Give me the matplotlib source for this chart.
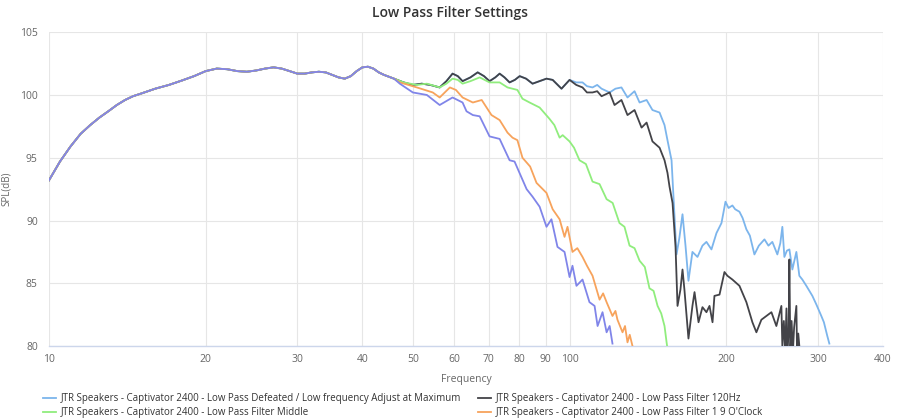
import matplotlib
matplotlib.use('Agg')
import matplotlib.pyplot as plt
from matplotlib.ticker import FixedLocator, NullLocator, NullFormatter

plt.rcParams['font.family'] = ['Open Sans', 'DejaVu Sans']

# shared low end (all settings identical here)
common_freq = [10, 10.5, 11, 11.5, 12, 12.5, 13, 13.5, 14, 14.5, 15, 16, 17, 18, 19, 20, 21, 22, 23,
               24, 25, 26, 27, 28, 29, 30, 31, 32, 33, 34, 35, 36, 37, 38, 39, 40, 41, 42, 43, 44, 46]
common_spl = [93.2, 94.7, 95.9, 96.9, 97.6, 98.2, 98.7, 99.2, 99.6, 99.9, 100.1, 100.5, 100.8, 101.15,
              101.5, 101.9, 102.1, 102.05, 101.9, 101.85, 101.95, 102.1, 102.2, 102.1, 101.9, 101.7,
              101.7, 101.8, 101.85, 101.8, 101.6, 101.4, 101.3, 101.5, 101.9, 102.2, 102.25, 102.1,
              101.8, 101.6, 101.3]

# blue and black are the same until about 100 Hz
mid_freq = [48, 50.0, 52, 54, 56.3, 58, 59.6, 61, 62.3, 64.5, 66.6, 68.5, 70.2, 72, 73.4, 75, 76.7,
            78.5, 80.2, 82.5, 84.9, 87.5, 90.3, 92.8, 96.5, 98.5, 100]
mid_spl = [101.0, 100.8, 100.9, 100.8, 100.6, 101.1, 101.7, 101.5, 101.1, 101.4, 101.8, 101.5, 101.1,
           101.4, 101.7, 101.4, 101.0, 101.2, 101.5, 101.3, 100.9, 101.1, 101.3, 101.2, 100.5, 100.9, 101.2]

defeated_freq = [103, 105.9, 108, 110.7, 113, 115.2, 119.4, 122.5, 125.8, 129.2, 133.3, 136.3, 140.6,
                 144.3, 148.9, 152.2, 154.2, 157.0, 157.7, 158.9, 160.5, 162.5, 164.8, 167, 169.2, 172.2,
                 176.1, 180.0, 183.2, 187.3, 191.5, 195.8, 199.3, 202, 205.5, 208, 212.0, 215, 218.6,
                 222, 226.5, 231.0, 236.8, 241.0, 245.2, 250.7, 254, 256.3, 258.6, 261.5, 264.4, 267.9,
                 272.7, 276.3, 280, 285.0, 292.7, 298.0, 304.5, 308, 312.7, 315.5]
defeated_spl = [101.0, 101.0, 100.7, 100.6, 100.8, 100.5, 100.2, 100.5, 100.6, 99.8, 100.3, 99.4, 99.6,
                98.8, 98.6, 97.6, 96.4, 94.8, 93.3, 90.9, 87.3, 88.6, 90.5, 88.0, 85.2, 87.5,
                87.1, 88.0, 88.3, 87.7, 89.0, 89.8, 91.5, 91.0, 91.2, 90.9, 90.7, 90.2, 89.3,
                88.8, 87.3, 88.0, 88.5, 88.0, 88.3, 87.3, 88.2, 89.5, 87.1, 87.6, 87.7, 86.1,
                87.5, 85.6, 85.3, 84.8, 84.0, 83.3, 82.4, 81.9, 80.8, 80.2]

lp120_freq = [103, 105.9, 108, 110.7, 113, 115.2, 119.4, 122.0, 125.8, 129.2, 133.3, 137.5, 140.6,
              144.3, 148.9, 152.2, 154.2, 155.6, 157.7, 159.8, 161.2, 163.3, 164.8, 166.2, 169.2,
              172.2, 173.8, 176.9, 180.0, 183.2, 185.7, 188.2, 189.8, 194.1, 198.4, 201.0, 205.5,
              212.0, 218.6, 224.5, 228.5, 233.6, 238.8, 244.2, 249.6, 255.2, 256.3, 258.0, 259.5,
              261.0, 262.0, 263.5, 264.4, 265.5, 267.0, 268.5, 270.0, 272.7, 273.5, 275.0, 276.3]
lp120_spl = [100.8, 100.6, 100.2, 100.2, 100.3, 99.9, 100.2, 99.2, 99.6, 98.4, 98.8, 97.4, 97.8,
             96.3, 95.8, 94.8, 93.8, 92.7, 91.4, 87.9, 83.2, 84.5, 86.1, 84.5, 80.6,
             83.2, 84.3, 81.9, 83.1, 82.7, 83.2, 81.9, 84.0, 84.1, 85.9, 85.6, 85.3,
             84.8, 83.5, 81.9, 81.1, 82.1, 82.4, 82.7, 81.6, 83.2, 80.0, 82.0, 79.5,
             83.0, 79.5, 81.0, 86.9, 79.5, 82.0, 79.5, 81.5, 83.2, 79.5, 81.0, 80.0]

middle_freq = [48, 50.9, 53.2, 56.3, 58, 59.6, 61, 62.3, 64.5, 67.2, 70.2, 73.4, 76.0, 79.4, 81.2,
               83.8, 87.6, 91.5, 93.5, 95.7, 97.0, 100, 102, 104.5, 107.5, 110.7, 114.2, 117.8, 121.0,
               124.7, 127.5, 130.4, 133.3, 136.3, 139.5, 142.4, 145.0, 147.6, 150.0, 152.2, 153.6, 154.2]
middle_spl = [101.0, 100.8, 100.9, 100.6, 100.9, 101.3, 101.2, 100.9, 101.1, 101.4, 101.0, 101.0,
              100.6, 100.4, 99.7, 99.4, 99.0, 98.1, 97.6, 96.6, 96.8, 96.3, 95.8, 94.8, 94.5, 93.1,
              92.9, 91.7, 91.4, 89.8, 89.5, 88.0, 87.8, 86.8, 86.3, 84.6, 84.4, 83.2, 82.6, 81.6,
              80.3, 79.8]

oclock_freq = [47.2, 50.9, 54.6, 56.3, 58.9, 60.5, 62.3, 65.2, 67.8, 70.8, 73.4, 76.0, 77.7, 79.4,
               81.2, 84.0, 86.4, 90.3, 92.8, 95.7, 97.8, 99.1, 101.3, 103.5, 105.9, 108.0, 110.7,
               114.2, 116.0, 117.8, 120.9, 122.5, 123.6, 126.4, 127.8, 129.2, 130.5, 132.1]
oclock_spl = [101.0, 100.6, 100.2, 99.8, 100.6, 100.4, 99.8, 99.4, 99.6, 98.4, 98.0, 97.0, 96.6,
              96.4, 95.0, 94.3, 93.0, 92.2, 90.9, 90.1, 88.7, 89.5, 87.5, 87.8, 87.1, 86.4, 85.6,
              83.7, 84.2, 83.5, 82.4, 82.8, 82.1, 81.1, 81.6, 80.3, 80.9, 80.0]

nine_freq = [47.2, 50.0, 53.2, 56.3, 59.6, 62.3, 63.4, 65.2, 67.2, 70.2, 73.4, 76.7, 78.4, 82.7,
             84.9, 87.6, 90.3, 92.3, 94.8, 97.8, 100, 101.3, 103.1, 105.9, 109.2, 111.7, 113.2,
             115.7, 117.8, 119.4, 120.9]
nine_spl = [100.9, 100.2, 100.0, 99.2, 99.8, 99.4, 98.7, 98.4, 98.3, 96.7, 96.5, 94.8, 94.7, 92.5,
            91.9, 91.1, 89.5, 90.1, 87.9, 87.5, 85.5, 86.4, 84.8, 85.3, 83.5, 83.2, 81.6,
            82.7, 81.1, 81.6, 80.2]

labels = ['JTR Speakers - Captivator 2400 - Low Pass Defeated / Low frequency Adjust at Maximum',
          'JTR Speakers - Captivator 2400 - Low Pass Filter 120Hz',
          'JTR Speakers - Captivator 2400 - Low Pass Filter Middle',
          "JTR Speakers - Captivator 2400 - Low Pass Filter 1 9 O'Clock"]
colors = ['#7cb5ec', '#434348', '#90ed7d', '#f7a35c', '#8085e9']

series = [
    (common_freq + mid_freq + defeated_freq, common_spl + mid_spl + defeated_spl),
    (common_freq + mid_freq + lp120_freq, common_spl + mid_spl + lp120_spl),
    (common_freq + middle_freq, common_spl + middle_spl),
    (common_freq + oclock_freq, common_spl + oclock_spl),
    (common_freq + nine_freq, common_spl + nine_spl),
]

fig = plt.figure(figsize=(9, 4.18), dpi=100)
ax = fig.add_axes([0.0544, 0.172, 0.9267, 0.751])

handles = []
for i, (f, s) in enumerate(series):
    ln, = ax.plot(f, s, color=colors[i], lw=1.3, solid_joinstyle='round', zorder=3 + i)
    handles.append(ln)

ax.set_xscale('log')
ax.set_xlim(10, 400)
ax.set_ylim(80, 105)
xt = [10, 20, 30, 40, 50, 60, 70, 80, 90, 100, 200, 300, 400]
ax.xaxis.set_major_locator(FixedLocator(xt))
ax.xaxis.set_minor_locator(NullLocator())
ax.xaxis.set_minor_formatter(NullFormatter())
ax.set_xticklabels([str(v) for v in xt])
ax.set_yticks([80, 85, 90, 95, 100, 105])
ax.grid(True, color='#e6e6e6', lw=0.8, zorder=0)
ax.tick_params(axis='both', length=0, labelsize=7.5, labelcolor='#666666')
ax.tick_params(axis='x', pad=6)
ax.tick_params(axis='y', pad=8)
for sp in ['top', 'right', 'left']:
    ax.spines[sp].set_visible(False)
ax.spines['bottom'].set_color('#ccd6eb')
ax.spines['bottom'].set_linewidth(1.0)

ax.set_xlabel('Frequency', fontsize=7.5, color='#666666', labelpad=6)
ax.set_ylabel('SPL(dB)', fontsize=7, color='#666666', labelpad=6)
fig.text(0.5, 0.97, 'Low Pass Filter Settings', ha='center', va='center',
         fontsize=10, fontweight='semibold', color='#333333')

fig.legend([handles[0], handles[2], handles[1], handles[3]],
           [labels[0], labels[2], labels[1], labels[3]],
           ncol=2, loc='center left', bbox_to_anchor=(0.038, 0.03), frameon=False,
           fontsize=7, handlelength=1.3, handletextpad=0.5, columnspacing=1.8,
           labelspacing=0.3, labelcolor='#333333')

fig.savefig('out.png', dpi=100)
